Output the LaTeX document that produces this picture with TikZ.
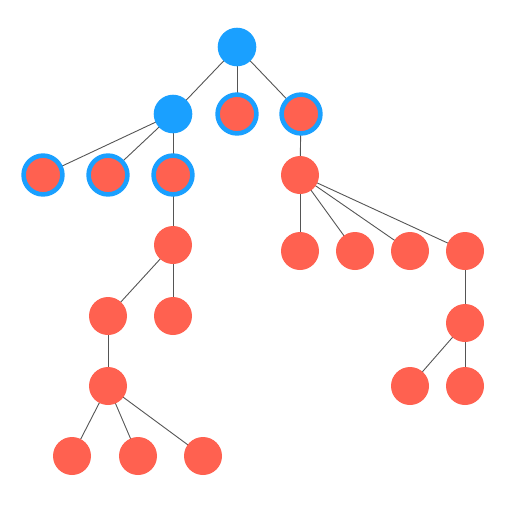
\documentclass[tikz,border=0pt]{standalone}
\usetikzlibrary{backgrounds}
\definecolor{nblue}{HTML}{1AA0FF}
\definecolor{nred}{HTML}{FF6150}
\definecolor{edgec}{HTML}{555555}
\begin{document}
\begin{tikzpicture}[x=1pt,y=-1pt,
  bnode/.style={circle,fill=nblue,minimum size=38.6pt,inner sep=0pt},
  rnode/.style={circle,fill=nred,minimum size=38pt,inner sep=0pt},
  ring/.style={circle,fill=nred,draw=nblue,line width=4.6pt,minimum size=38.8pt,inner sep=0pt},
  edge/.style={draw=edgec,line width=0.9pt}]
\useasboundingbox (0,0) rectangle (512,512);
\node[bnode] (r) at (237,47) {};
\node[bnode] (a) at (173,114) {};
\node[ring] (b) at (237,114) {};
\node[ring] (c) at (301,114) {};
\node[ring] (a1) at (43,175) {};
\node[ring] (a2) at (108,175) {};
\node[ring] (a3) at (173,175) {};
\node[rnode] (c1) at (300,175) {};
\node[rnode] (d) at (173,245) {};
\node[rnode] (c11) at (300,251) {};
\node[rnode] (c12) at (355,251) {};
\node[rnode] (c13) at (410,251) {};
\node[rnode] (c14) at (465,251) {};
\node[rnode] (d1) at (108,316) {};
\node[rnode] (d2) at (173,316) {};
\node[rnode] (e) at (465,323) {};
\node[rnode] (f) at (108,386) {};
\node[rnode] (e1) at (410,386) {};
\node[rnode] (e2) at (465,386) {};
\node[rnode] (f1) at (72,456) {};
\node[rnode] (f2) at (138,456) {};
\node[rnode] (f3) at (203,456) {};
\begin{scope}[on background layer]
\foreach \p/\q in {r/a,r/b,r/c,a/a1,a/a2,a/a3,c/c1,a3/d,c1/c11,c1/c12,c1/c13,c1/c14,
  d/d1,d/d2,c14/e,d1/f,e/e1,e/e2,f/f1,f/f2,f/f3}
  \draw[edge] (\p.center) -- (\q.center);
\end{scope}
\end{tikzpicture}
\end{document}
